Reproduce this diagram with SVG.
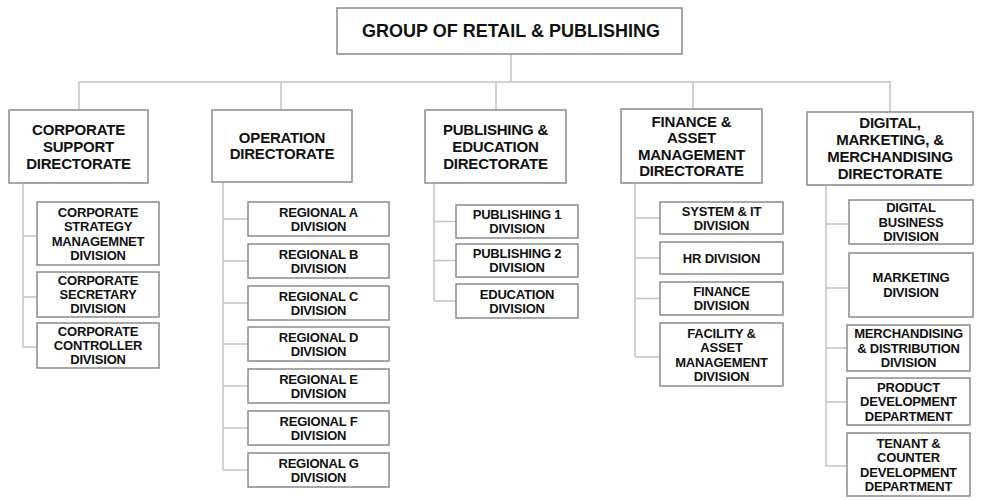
<svg xmlns="http://www.w3.org/2000/svg" width="985" height="500" viewBox="0 0 985 500">
<style>
rect{fill:#fff;stroke:#8a8a8a;stroke-width:1.5}
.c path{fill:none;stroke:#c4c4c4;stroke-width:1.5}
text{font-family:"Liberation Sans",Arial,sans-serif;font-weight:bold;fill:#111;text-anchor:middle}
.t{font-size:18px;letter-spacing:0px}
.d{font-size:15px;letter-spacing:-0.2px}
.s{font-size:13px;letter-spacing:-0.2px}
</style>
<rect x="0" y="0" width="985" height="500" style="fill:#fff;stroke:none"/>
<g class="c" id="connectors">
<path d="M511 54V82M78 82H891M79 82V110M281 82V110M496 82V110M693 82V109M890 82V112"/>
<path d="M23 183V347M23 236H37M23 297H37M23 347H37"/>
<path d="M223 182V470M223 219H248M223 261H248M223 303H248M223 344H248M223 386H248M223 428H248M223 470H248"/>
<path d="M434 183V301M434 221.5H456M434 260.5H456M434 301H456"/>
<path d="M635 183V357M635 218H660M635 258H660M635 298.5H660M635 357H660"/>
<path d="M826 185V466M826 224H849M826 288H849M826 348H847M826 402H847M826 466H847"/>
</g>
<g id="top"><rect x="337" y="8" width="345" height="46"/><text class="t" x="511" y="37">GROUP OF RETAIL &amp; PUBLISHING</text></g>

<g id="dir-corporate"><rect x="9" y="110" width="139" height="73"/><text class="d"><tspan x="78.5" y="134.5">CORPORATE</tspan><tspan x="78.5" y="151.5">SUPPORT</tspan><tspan x="78.5" y="168.5">DIRECTORATE</tspan></text></g>
<g id="corp-strategy"><rect x="37" y="202" width="122" height="63"/><text class="s"><tspan x="98" y="216.5">CORPORATE</tspan><tspan x="98" y="231">STRATEGY</tspan><tspan x="98" y="245.5">MANAGEMNET</tspan><tspan x="98" y="260">DIVISION</tspan></text></g>
<g id="corp-secretary"><rect x="37" y="272" width="122" height="45"/><text class="s"><tspan x="98" y="285">CORPORATE</tspan><tspan x="98" y="299">SECRETARY</tspan><tspan x="98" y="313">DIVISION</tspan></text></g>
<g id="corp-controller"><rect x="37" y="323" width="122" height="45"/><text class="s"><tspan x="98" y="336">CORPORATE</tspan><tspan x="98" y="350">CONTROLLER</tspan><tspan x="98" y="364">DIVISION</tspan></text></g>

<g id="dir-operation"><rect x="212" y="110" width="140" height="72"/><text class="d"><tspan x="282" y="143">OPERATION</tspan><tspan x="282" y="159">DIRECTORATE</tspan></text></g>
<g id="reg-a"><rect x="248" y="202" width="141" height="34"/><text class="s"><tspan x="318.5" y="217">REGIONAL A</tspan><tspan x="318.5" y="231">DIVISION</tspan></text></g>
<g id="reg-b"><rect x="248" y="244" width="141" height="34"/><text class="s"><tspan x="318.5" y="259">REGIONAL B</tspan><tspan x="318.5" y="273">DIVISION</tspan></text></g>
<g id="reg-c"><rect x="248" y="286" width="141" height="34"/><text class="s"><tspan x="318.5" y="301">REGIONAL C</tspan><tspan x="318.5" y="315">DIVISION</tspan></text></g>
<g id="reg-d"><rect x="248" y="327" width="141" height="34"/><text class="s"><tspan x="318.5" y="342">REGIONAL D</tspan><tspan x="318.5" y="356">DIVISION</tspan></text></g>
<g id="reg-e"><rect x="248" y="369" width="141" height="34"/><text class="s"><tspan x="318.5" y="384">REGIONAL E</tspan><tspan x="318.5" y="398">DIVISION</tspan></text></g>
<g id="reg-f"><rect x="248" y="411" width="141" height="34"/><text class="s"><tspan x="318.5" y="426">REGIONAL F</tspan><tspan x="318.5" y="440">DIVISION</tspan></text></g>
<g id="reg-g"><rect x="248" y="453" width="141" height="34"/><text class="s"><tspan x="318.5" y="468">REGIONAL G</tspan><tspan x="318.5" y="482">DIVISION</tspan></text></g>

<g id="dir-publishing"><rect x="425" y="110" width="141" height="73"/><text class="d"><tspan x="495.5" y="134.5">PUBLISHING &amp;</tspan><tspan x="495.5" y="151.5">EDUCATION</tspan><tspan x="495.5" y="168.5">DIRECTORATE</tspan></text></g>
<g id="pub-1"><rect x="456" y="205" width="122" height="33"/><text class="s"><tspan x="517" y="219">PUBLISHING 1</tspan><tspan x="517" y="233">DIVISION</tspan></text></g>
<g id="pub-2"><rect x="456" y="244" width="122" height="33"/><text class="s"><tspan x="517" y="258">PUBLISHING 2</tspan><tspan x="517" y="272">DIVISION</tspan></text></g>
<g id="education"><rect x="456" y="284" width="122" height="34"/><text class="s"><tspan x="517" y="298.5">EDUCATION</tspan><tspan x="517" y="312.5">DIVISION</tspan></text></g>

<g id="dir-finance"><rect x="621" y="109" width="141" height="74"/><text class="d"><tspan x="691.5" y="126.5">FINANCE &amp;</tspan><tspan x="691.5" y="143">ASSET</tspan><tspan x="691.5" y="159.5">MANAGEMENT</tspan><tspan x="691.5" y="176">DIRECTORATE</tspan></text></g>
<g id="system-it"><rect x="660" y="202" width="123" height="32"/><text class="s"><tspan x="721.5" y="215.5">SYSTEM &amp; IT</tspan><tspan x="721.5" y="229.5">DIVISION</tspan></text></g>
<g id="hr"><rect x="660" y="242" width="123" height="32"/><text class="s" x="721.5" y="262.7">HR DIVISION</text></g>
<g id="finance"><rect x="660" y="282" width="123" height="33"/><text class="s"><tspan x="721.5" y="296">FINANCE</tspan><tspan x="721.5" y="310">DIVISION</tspan></text></g>
<g id="facility"><rect x="660" y="323" width="123" height="63"/><text class="s"><tspan x="721.5" y="337.5">FACILITY &amp;</tspan><tspan x="721.5" y="352">ASSET</tspan><tspan x="721.5" y="366.5">MANAGEMENT</tspan><tspan x="721.5" y="381">DIVISION</tspan></text></g>

<g id="dir-digital"><rect x="807" y="112" width="166" height="73"/><text class="d"><tspan x="890" y="128.4">DIGITAL,</tspan><tspan x="890" y="145.4">MARKETING, &amp;</tspan><tspan x="890" y="162.4">MERCHANDISING</tspan><tspan x="890" y="179.4">DIRECTORATE</tspan></text></g>
<g id="digital-business"><rect x="849" y="200" width="124" height="44"/><text class="s"><tspan x="911" y="212">DIGITAL</tspan><tspan x="911" y="226.5">BUSINESS</tspan><tspan x="911" y="241">DIVISION</tspan></text></g>
<g id="marketing"><rect x="849" y="253" width="124" height="64"/><text class="s"><tspan x="911" y="282">MARKETING</tspan><tspan x="911" y="297">DIVISION</tspan></text></g>
<g id="merchandising"><rect x="847" y="325" width="123" height="46"/><text class="s"><tspan x="908.5" y="338">MERCHANDISING</tspan><tspan x="908.5" y="352.5">&amp; DISTRIBUTION</tspan><tspan x="908.5" y="367">DIVISION</tspan></text></g>
<g id="product"><rect x="847" y="378" width="123" height="47"/><text class="s"><tspan x="908.5" y="391.5">PRODUCT</tspan><tspan x="908.5" y="406">DEVELOPMENT</tspan><tspan x="908.5" y="420.5">DEPARTMENT</tspan></text></g>
<g id="tenant"><rect x="847" y="433" width="123" height="63"/><text class="s"><tspan x="908.5" y="447.5">TENANT &amp;</tspan><tspan x="908.5" y="462">COUNTER</tspan><tspan x="908.5" y="476.5">DEVELOPMENT</tspan><tspan x="908.5" y="491">DEPARTMENT</tspan></text></g>
</svg>
